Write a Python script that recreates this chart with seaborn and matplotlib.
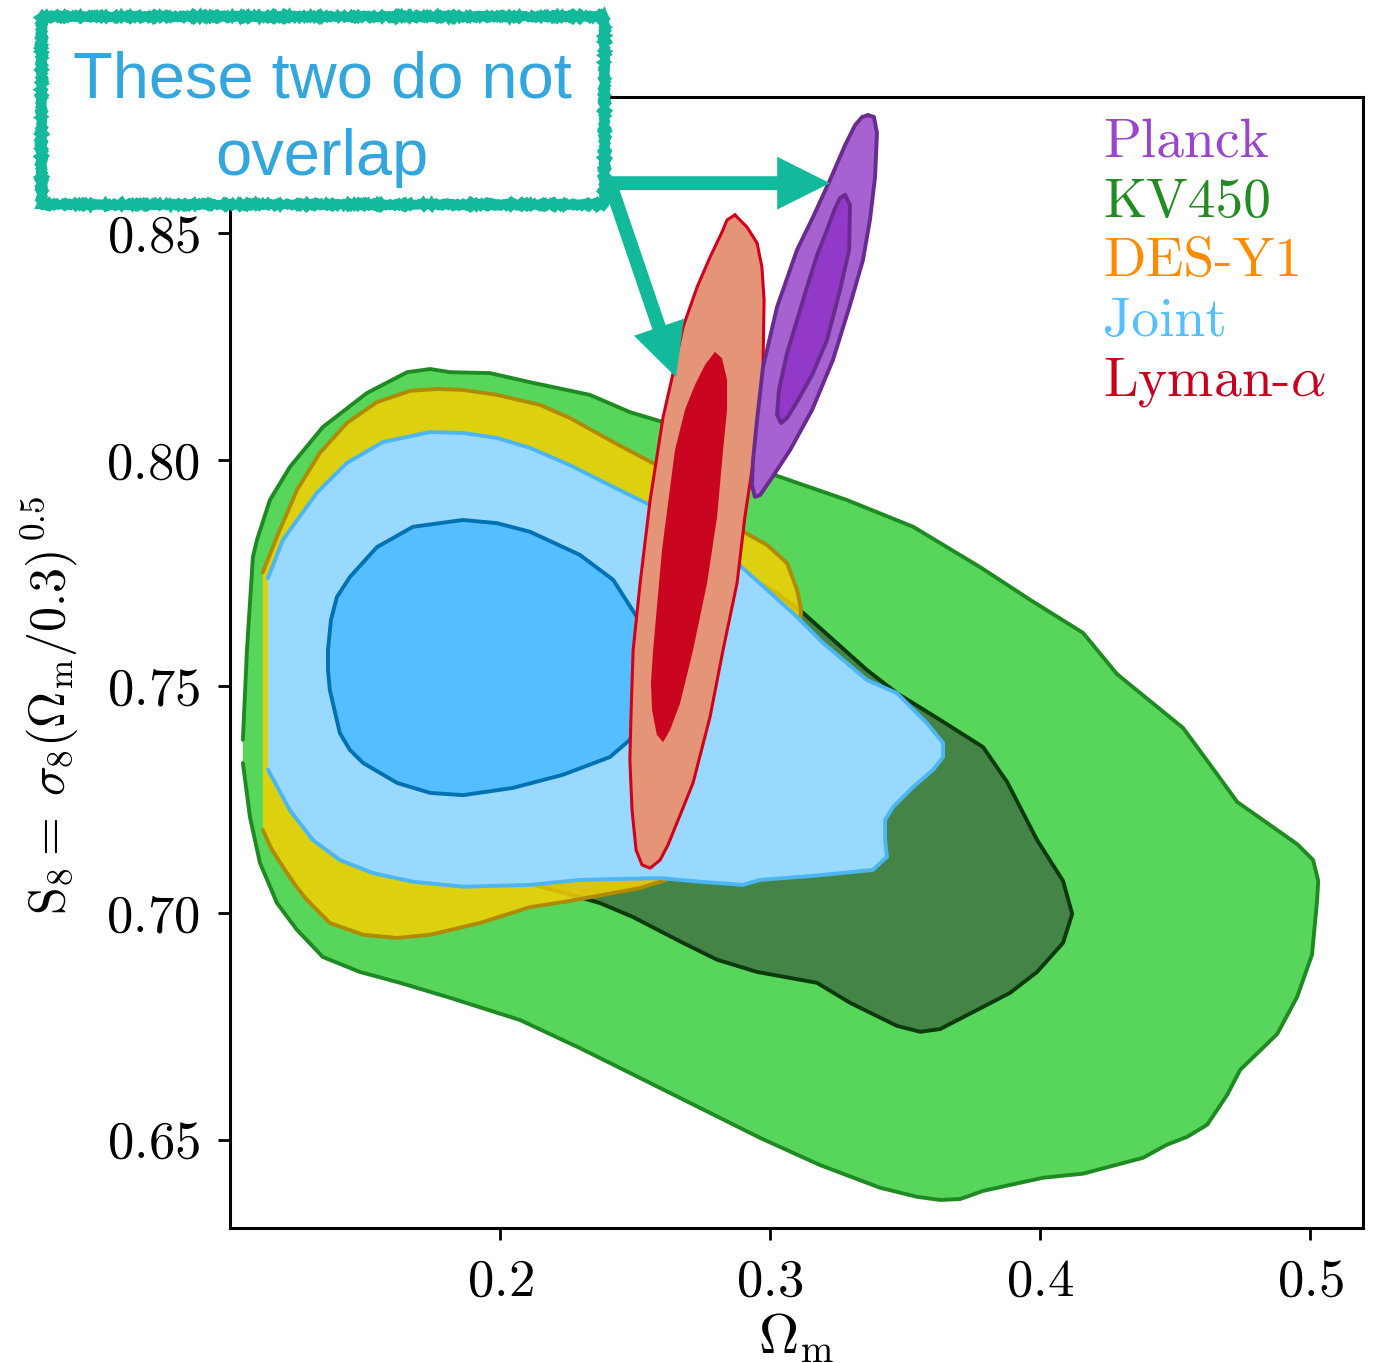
import matplotlib
matplotlib.use("Agg")
import matplotlib.pyplot as plt
from matplotlib.patches import Rectangle
import seaborn as sns

# ---------------------------------------------------------------- axes setup
x_ticks = [0.2, 0.3, 0.4, 0.5]
y_ticks = [0.65, 0.70, 0.75, 0.80, 0.85]
x_range = (0.1, 0.5196)
y_range = (0.6305, 0.8800)

# ------------------------------------------- confidence contours (Omega_m, S8)
# KV450, 95% region
kv450_95_om = [0.1048, 0.1074, 0.1111, 0.1174, 0.1248, 0.1344, 0.1481, 0.1630, 0.1815, 0.2074,
               0.2296, 0.2519, 0.2741, 0.2963, 0.3185, 0.3407, 0.3544, 0.3630, 0.3704, 0.3789,
               0.4011, 0.4159, 0.4381, 0.4470, 0.4544, 0.4619, 0.4693, 0.4741, 0.4878, 0.4952,
               0.5007, 0.5026, 0.5030, 0.5011, 0.4952, 0.4730, 0.4630, 0.4530, 0.4285, 0.4159,
               0.3963, 0.3778, 0.3530, 0.3285, 0.3037, 0.2963, 0.2604, 0.2481, 0.2333, 0.2111,
               0.1963, 0.1815, 0.1741, 0.1656, 0.1507, 0.1344, 0.1222, 0.1148, 0.1100, 0.1085,
               0.1063, 0.1048]
kv450_95_s8 = [0.7331, 0.7212, 0.7111, 0.7022, 0.6963, 0.6903, 0.6870, 0.6846, 0.6813, 0.6764,
               0.6702, 0.6636, 0.6570, 0.6504, 0.6444, 0.6394, 0.6374, 0.6367, 0.6369, 0.6387,
               0.6416, 0.6425, 0.6460, 0.6489, 0.6506, 0.6533, 0.6599, 0.6654, 0.6733, 0.6815,
               0.6908, 0.7029, 0.7071, 0.7117, 0.7152, 0.7245, 0.7327, 0.7408, 0.7527, 0.7618,
               0.7691, 0.7763, 0.7852, 0.7911, 0.7962, 0.7977, 0.8083, 0.8105, 0.8143, 0.8171,
               0.8191, 0.8193, 0.8200, 0.8193, 0.8147, 0.8072, 0.7984, 0.7911, 0.7823, 0.7785,
               0.7580, 0.7382]

# KV450, 68% region
kv450_68_om = [0.3019, 0.3119, 0.3222, 0.3359, 0.3470, 0.3630, 0.3789, 0.3878, 0.3989, 0.4085,
               0.4119, 0.4085, 0.3989, 0.3889, 0.3789, 0.3630, 0.3556, 0.3470, 0.3296, 0.3174,
               0.2952, 0.2804, 0.2678, 0.2493, 0.2370, 0.2241, 0.2111, 0.1926, 0.1741, 0.1704,
               0.1926, 0.2370, 0.2741, 0.2907]
kv450_68_s8 = [0.7708, 0.7664, 0.7609, 0.7536, 0.7485, 0.7426, 0.7366, 0.7289, 0.7161, 0.7071,
               0.6998, 0.6934, 0.6870, 0.6824, 0.6793, 0.6744, 0.6738, 0.6751, 0.6802, 0.6846,
               0.6870, 0.6897, 0.6934, 0.6991, 0.7022, 0.7044, 0.7064, 0.7106, 0.7249, 0.7514,
               0.7735, 0.7823, 0.7779, 0.7746]

# DES-Y1, 95% region (left side cut by the prior edge)
des_95_om = [0.1122, 0.1156, 0.1196, 0.1241, 0.1285, 0.1370, 0.1493, 0.1619, 0.1741, 0.1926,
             0.2111, 0.2233, 0.2419, 0.2519, 0.2604, 0.2815, 0.2963, 0.3074, 0.3111, 0.3115,
             0.3100, 0.3063, 0.2989, 0.2889, 0.2741, 0.2581, 0.2419, 0.2259, 0.2148, 0.1989,
             0.1863, 0.1767, 0.1667, 0.1544, 0.1433, 0.1333, 0.1248, 0.1174, 0.1122]
des_95_s8 = [0.7183, 0.7139, 0.7102, 0.7062, 0.7029, 0.6978, 0.6952, 0.6945, 0.6952, 0.6978,
             0.7013, 0.7024, 0.7044, 0.7055, 0.7071, 0.7117, 0.7249, 0.7470, 0.7635, 0.7669,
             0.7713, 0.7772, 0.7812, 0.7845, 0.7933, 0.7988, 0.8039, 0.8092, 0.8121, 0.8143,
             0.8154, 0.8156, 0.8152, 0.8127, 0.8081, 0.8015, 0.7933, 0.7830, 0.7752]

# Joint, 95% region (left side cut by the prior edge)
joint_95_om = [0.1141, 0.1222, 0.1307, 0.1407, 0.1530, 0.1678, 0.1863, 0.2111, 0.2296, 0.2593,
               0.2741, 0.2900, 0.2963, 0.3159, 0.3381, 0.3433, 0.3426, 0.3426, 0.3456, 0.3530,
               0.3604, 0.3641, 0.3641, 0.3581, 0.3470, 0.3359, 0.3196, 0.3100, 0.2989, 0.2878,
               0.2741, 0.2556, 0.2419, 0.2259, 0.2111, 0.1989, 0.1863, 0.1741, 0.1567, 0.1433,
               0.1322, 0.1196, 0.1141]
joint_95_s8 = [0.7316, 0.7227, 0.7161, 0.7117, 0.7088, 0.7069, 0.7058, 0.7062, 0.7073, 0.7077,
               0.7069, 0.7062, 0.7073, 0.7082, 0.7095, 0.7124, 0.7161, 0.7205, 0.7234, 0.7278,
               0.7316, 0.7344, 0.7375, 0.7419, 0.7485, 0.7514, 0.7596, 0.7653, 0.7713, 0.7772,
               0.7845, 0.7900, 0.7940, 0.7988, 0.8026, 0.8048, 0.8059, 0.8061, 0.8039, 0.7993,
               0.7927, 0.7823, 0.7739]

# Joint, 68% region
joint_68_om = [0.1363, 0.1363, 0.1370, 0.1407, 0.1444, 0.1493, 0.1619, 0.1741, 0.1863, 0.2048,
               0.2233, 0.2407, 0.2481, 0.2556, 0.2574, 0.2507, 0.2419, 0.2296, 0.2111, 0.1989,
               0.1863, 0.1678, 0.1544, 0.1444, 0.1396, 0.1374]
joint_68_s8 = [0.7580, 0.7536, 0.7492, 0.7397, 0.7360, 0.7331, 0.7287, 0.7265, 0.7260, 0.7276,
               0.7305, 0.7344, 0.7382, 0.7485, 0.7558, 0.7653, 0.7735, 0.7790, 0.7841, 0.7860,
               0.7867, 0.7852, 0.7807, 0.7741, 0.7697, 0.7646]

# Lyman-alpha, 95% region
lya_95_om = [0.2870, 0.2915, 0.2952, 0.2970, 0.2978, 0.2974, 0.2956, 0.2933, 0.2907, 0.2878,
             0.2826, 0.2778, 0.2715, 0.2667, 0.2622, 0.2593, 0.2556, 0.2526, 0.2504, 0.2489,
             0.2481, 0.2485, 0.2493, 0.2519, 0.2556, 0.2604, 0.2641, 0.2678, 0.2730, 0.2778,
             0.2822, 0.2841]
lya_95_s8 = [0.8540, 0.8513, 0.8478, 0.8425, 0.8352, 0.8204, 0.8088, 0.7977, 0.7874, 0.7728,
             0.7580, 0.7433, 0.7287, 0.7216, 0.7150, 0.7117, 0.7099, 0.7106, 0.7139, 0.7227,
             0.7338, 0.7433, 0.7580, 0.7728, 0.7911, 0.8094, 0.8191, 0.8293, 0.8381, 0.8447,
             0.8502, 0.8529]

# Lyman-alpha, 68% region
lya_68_om = [0.2796, 0.2822, 0.2841, 0.2841, 0.2826, 0.2804, 0.2767, 0.2715, 0.2667, 0.2630,
             0.2604, 0.2581, 0.2563, 0.2559, 0.2567, 0.2600, 0.2648, 0.2685, 0.2722, 0.2759]
lya_68_s8 = [0.8238, 0.8224, 0.8176, 0.8110, 0.8021, 0.7874, 0.7728, 0.7580, 0.7463, 0.7404,
             0.7377, 0.7393, 0.7448, 0.7508, 0.7580, 0.7801, 0.8021, 0.8110, 0.8165, 0.8209]

# Planck, 95% region
planck_95_om = [0.3363, 0.3385, 0.3396, 0.3389, 0.3370, 0.3344, 0.3296, 0.3233, 0.3156, 0.3074,
                0.3007, 0.2963, 0.2944, 0.2933, 0.2937, 0.2952, 0.2974, 0.3026, 0.3100, 0.3159,
                0.3222, 0.3278, 0.3315, 0.3341]
planck_95_s8 = [0.8760, 0.8756, 0.8721, 0.8624, 0.8529, 0.8440, 0.8341, 0.8220, 0.8110, 0.8021,
                0.7960, 0.7922, 0.7918, 0.7944, 0.7999, 0.8088, 0.8204, 0.8337, 0.8463, 0.8535,
                0.8617, 0.8694, 0.8738, 0.8756]

# Planck, 68% region
planck_68_om = [0.3278, 0.3296, 0.3293, 0.3259, 0.3211, 0.3156, 0.3104, 0.3063, 0.3041, 0.3026,
                0.3033, 0.3063, 0.3100, 0.3137, 0.3174, 0.3211, 0.3241, 0.3259]
planck_68_s8 = [0.8584, 0.8562, 0.8463, 0.8374, 0.8264, 0.8187, 0.8132, 0.8092, 0.8081, 0.8099,
                0.8154, 0.8235, 0.8308, 0.8381, 0.8451, 0.8507, 0.8555, 0.8577]

# ------------------------------------------------------------------- legend
legend_labels = ["Planck", "KV450", "DES-Y1", "Joint", r"Lyman-$\alpha$"]
legend_colors = ["#9a45cc", "#228b22", "#ff8c00", "#55c0ff", "#c8001e"]

# ---------------------------------------------------------------- callout
note_lines = ["These two do not", "overlap"]
arrow_tail = (0.2407, 0.8610)
arrow_heads = [(0.3222, 0.8610), (0.2652, 0.8182)]
teal = "#12b99b"
note_blue = "#34a6de"

# ------------------------------------------------------------------ style
sns.set_theme(style="ticks")
plt.rcParams.update({
    "font.family": ["cmr10", "DejaVu Serif"],
    "mathtext.fontset": "cm",
    "axes.formatter.use_mathtext": True,
    "axes.edgecolor": "black",
    "axes.labelcolor": "black",
    "text.color": "black",
    "xtick.color": "black",
    "ytick.color": "black",
    "axes.unicode_minus": False,
})

fig = plt.figure(figsize=(6.905, 6.815), dpi=200)
ax = fig.add_axes([0.1665, 0.0990, 0.8205, 0.8298])


def contour(om, s8, face, edge, lw, z, closed=True, alpha=1.0):
    ax.fill(om, s8, facecolor=face, edgecolor="none", alpha=alpha, zorder=z)
    if edge is None:
        return
    xs, ys = list(om), list(s8)
    if closed:
        xs.append(xs[0])
        ys.append(ys[0])
    sns.lineplot(x=xs, y=ys, sort=False, estimator=None, color=edge, lw=lw,
                 ax=ax, zorder=z + 0.1, solid_joinstyle="round")


contour(kv450_95_om, kv450_95_s8, "#58d65c", "#1f8a22", 1.4, 1, closed=False)
contour(kv450_68_om, kv450_68_s8, "#458447", "#0b3a0c", 1.4, 2)
contour(des_95_om, des_95_s8, "#f4cf03", "#b08a00", 1.4, 3, closed=False, alpha=0.86)
contour(joint_95_om, joint_95_s8, "#99d9ff", "#4bb6f2", 1.4, 4, closed=False)
contour(joint_68_om, joint_68_s8, "#55befe", "#0072b4", 1.4, 5)
contour(lya_95_om, lya_95_s8, "#e49477", "#d0001c", 1.1, 6)
contour(lya_68_om, lya_68_s8, "#c9051f", None, 0, 7)
contour(planck_95_om, planck_95_s8, "#a662d1", "#6a2b8e", 1.4, 8)
contour(planck_68_om, planck_68_s8, "#9339c9", "#6a2b8e", 1.4, 9)

ax.set_xlim(*x_range)
ax.set_ylim(*y_range)
ax.set_xticks(x_ticks, labels=[f"${t:.1f}$" for t in x_ticks], fontsize=19)
ax.set_yticks(y_ticks, labels=[f"${t:.2f}$" for t in y_ticks], fontsize=19)
ax.tick_params(direction="out", length=4.4, width=1.0, pad=6.5,
               top=False, right=False)
for sp in ax.spines.values():
    sp.set_linewidth(1.1)
    sp.set_color("black")

ax.set_xlabel(r"$\Omega_{\mathrm{m}}$", fontsize=20)
ax.xaxis.set_label_coords(0.5, -0.074)
ax.set_ylabel(r"$\mathrm{S}_8 =\;\sigma_8(\Omega_{\mathrm{m}}/0.3)^{\,0.5}$", fontsize=18)
ax.yaxis.set_label_coords(-0.131, 0.462)

# coloured legend entries
for i, (lab, col) in enumerate(zip(legend_labels, legend_colors)):
    ax.text(0.7705, 0.9469 - i * 0.0527, lab, color=col, fontsize=20,
            transform=ax.transAxes, ha="left", va="baseline", zorder=20)

# arrows from the callout to the two contours
for head in arrow_heads:
    ax.annotate("", xy=head, xytext=arrow_tail, xycoords="data",
                arrowprops=dict(width=5.0, headwidth=19, headlength=19, shrink=0,
                                facecolor=teal, edgecolor=teal, lw=0),
                annotation_clip=False, zorder=12)

# hand-drawn callout box
box = Rectangle((0.0295, 0.8500), 0.4080, 0.1383, transform=fig.transFigure,
                facecolor="white", edgecolor=teal, lw=3.3, zorder=5)
box.set_sketch_params(scale=0.8, length=2.5, randomness=2.0)
fig.add_artist(box)
fig.text(0.2332, 0.9288, note_lines[0], ha="center", va="baseline", color=note_blue,
         fontsize=23.4, family=["Liberation Sans", "DejaVu Sans"], zorder=6)
fig.text(0.2332, 0.8716, note_lines[1], ha="center", va="baseline", color=note_blue,
         fontsize=23.4, family=["Liberation Sans", "DejaVu Sans"], zorder=6)

fig.savefig("out.png", dpi=200, facecolor="white")
